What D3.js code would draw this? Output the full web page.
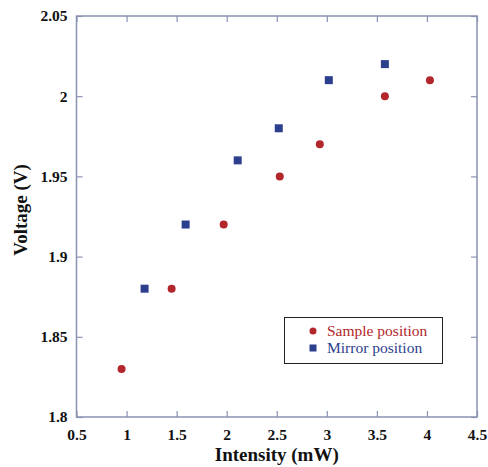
<!DOCTYPE html>
<html><head><meta charset="utf-8">
<script src="https://cdn.jsdelivr.net/npm/d3@7"></script>
<style>body{margin:0;background:#fff}svg{display:block}
svg text{font-family:"Liberation Serif","Times New Roman",Times,serif !important}</style>
</head><body>
<script>
const sampleX = [0.95, 1.45, 1.97, 2.53, 2.93, 3.58, 4.03];
const sampleY = [1.83, 1.88, 1.92, 1.95, 1.97, 2.00, 2.01];
const mirrorX = [1.18, 1.59, 2.11, 2.52, 3.02, 3.58];
const mirrorY = [1.88, 1.92, 1.96, 1.98, 2.01, 2.02];
const xTicks = [0.5, 1, 1.5, 2, 2.5, 3, 3.5, 4, 4.5];
const yTicks = [1.8, 1.85, 1.9, 1.95, 2, 2.05];
const seriesNames = ["Sample position", "Mirror position"];

const W = 488, H = 467;
const m = {l: 76.5, r: 477, t: 16, b: 417};
const axisCol = "#8a92b2", red = "#b3262b", blue = "#2c3e8e";
const svg = d3.select("body").append("svg").attr("width", W).attr("height", H);
const x = d3.scaleLinear().domain([0.5, 4.5]).range([m.l, m.r]);
const y = d3.scaleLinear().domain([1.8, 2.05]).range([m.b, m.t]);

function styleAxis(g, showLabels) {
  g.select(".domain").remove();
  g.attr("font-family", null);
  g.selectAll(".tick line").attr("stroke", axisCol).attr("stroke-width", 1.2);
  g.selectAll(".tick text").attr("font-weight", "bold")
    .attr("font-size", 15.5).attr("fill", "#111");
  if (!showLabels) g.selectAll(".tick text").remove();
}
const fmt = d => d3.format("")(+d.toFixed(2));
svg.append("g").attr("transform", `translate(0,${m.b})`)
  .call(d3.axisBottom(x).tickValues(xTicks).tickSize(-6).tickPadding(12).tickFormat(fmt))
  .call(g => styleAxis(g, true));
svg.append("g").attr("transform", `translate(0,${m.t})`)
  .call(d3.axisTop(x).tickValues(xTicks).tickSize(-6).tickFormat(""))
  .call(g => styleAxis(g, false));
svg.append("g").attr("transform", `translate(${m.l},0)`)
  .call(d3.axisLeft(y).tickValues(yTicks).tickSize(-6).tickPadding(9).tickFormat(fmt))
  .call(g => styleAxis(g, true));
svg.append("g").attr("transform", `translate(${m.r},0)`)
  .call(d3.axisRight(y).tickValues(yTicks).tickSize(-6).tickFormat(""))
  .call(g => styleAxis(g, false));

svg.append("rect").attr("x", m.l).attr("y", m.t).attr("width", m.r - m.l).attr("height", m.b - m.t)
  .attr("fill", "none").attr("stroke", axisCol).attr("stroke-width", 1.5);

const sample = sampleX.map((v, i) => ({x: v, y: sampleY[i]}));
const mirror = mirrorX.map((v, i) => ({x: v, y: mirrorY[i]}));
svg.append("g").selectAll("circle").data(sample).join("circle")
  .attr("cx", d => x(d.x)).attr("cy", d => y(d.y)).attr("r", 4).attr("fill", red);
const s = 8;
svg.append("g").selectAll("rect").data(mirror).join("rect")
  .attr("x", d => x(d.x) - s/2).attr("y", d => y(d.y) - s/2).attr("width", s).attr("height", s).attr("fill", blue);

// Legend
const lg = svg.append("g");
lg.append("rect").attr("x", 284.5).attr("y", 317.5).attr("width", 158).attr("height", 46)
  .attr("fill", "#fff").attr("stroke", "#222").attr("stroke-width", 1);
lg.append("circle").attr("cx", 313).attr("cy", 331).attr("r", 3.5).attr("fill", red);
lg.append("rect").attr("x", 309.5).attr("y", 344.5).attr("width", 7).attr("height", 7).attr("fill", blue);
lg.append("text").attr("x", 327).attr("y", 336).text(seriesNames[0])
  .attr("font-size", 15.5).attr("fill", red);
lg.append("text").attr("x", 327).attr("y", 353).text(seriesNames[1])
  .attr("font-size", 15.5).attr("fill", blue);

svg.append("text").attr("x", (m.l + m.r) / 2).attr("y", 461).attr("text-anchor", "middle")
  .attr("font-weight", "bold").attr("font-size", 19).attr("fill", "#111")
  .text("Intensity (mW)");
svg.append("text").attr("transform", `translate(27,210) rotate(-90)`)
  .attr("text-anchor", "middle")
  .attr("font-weight", "bold").attr("font-size", 19).attr("fill", "#111")
  .text("Voltage (V)");
</script>
</body></html>
